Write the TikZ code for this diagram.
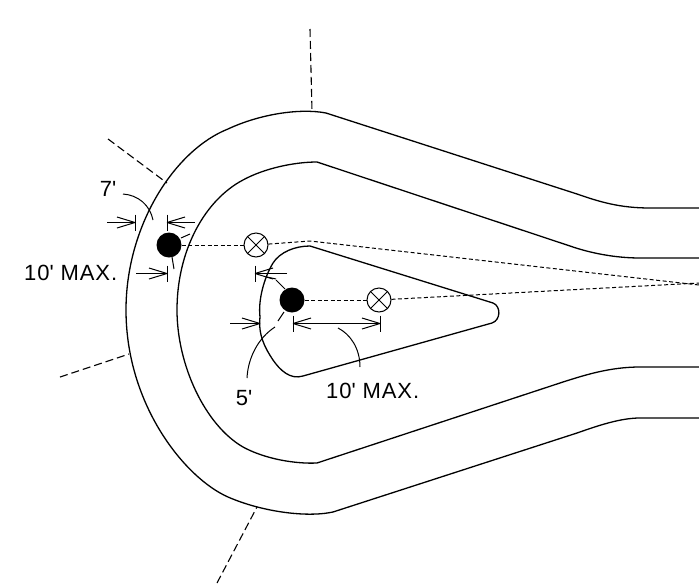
\documentclass[tikz,border=0pt]{standalone}
\usepackage{fontspec}
\setmainfont{Liberation Sans}[LetterSpace=4]
\tikzset{
	pole/.style = {circle, fill = black, inner sep = 0pt, minimum size = 25pt},
	lamp/.style = {circle, draw, line width = 1pt, fill = white, inner sep = 0pt, minimum size = 24pt},
	label/.style = {inner sep = 0pt, font = \fontsize{22}{22}\selectfont},
	curb/.style = {line width = 1.3pt},
	leader/.style = {line width = 1pt},
	wire/.style = {line width = 1pt, dash pattern = on 4pt off 2.5pt},
	bound/.style = {line width = 1.1pt, dash pattern = on 8pt off 4pt}
}
\newcommand{\cross}[1]{\draw[line width = 1pt] (#1.45) -- (#1.225);
					\draw[line width = 1pt] (#1.135) -- (#1.315);}
\newcommand{\tick}[1]{\draw[leader] (#1) ++(0,-8) -- ++(0,16);}
\newcommand{\barbright}[1]{\draw[leader] (#1) -- ++(-18,-5.5);
					\draw[leader] (#1) -- ++(-18,5.5);}
\newcommand{\barbleft}[1]{\draw[leader] (#1) -- ++(18,-5.5);
					\draw[leader] (#1) -- ++(18,5.5);}
\newcommand{\ft}{\textquotesingle}
\begin{document}
\begin{tikzpicture}[x=1pt, y=-1pt]
	\useasboundingbox (0,0) rectangle (699,587);

	% curbs
	\draw[curb] (699,208) -- (650,208) .. controls (620,208) and (600,202) .. (577,194) -- (326,113)
		.. controls (300,108) and (260,114) .. (228,129)
		.. controls (175,150) and (126,225) .. (126,310)
		.. controls (126,405) and (185,478) .. (228,497)
		.. controls (260,511) and (305,518) .. (333,512) -- (577,433)
		.. controls (597,426) and (620,418) .. (640,418) -- (699,418);
	\draw[curb] (699,258) -- (640,258) .. controls (615,258) and (590,253) .. (570,246) -- (317,162)
		.. controls (295,162) and (265,168) .. (243,180)
		.. controls (205,200) and (177,250) .. (177,310)
		.. controls (177,365) and (205,425) .. (243,447)
		.. controls (265,459) and (295,464) .. (317,463) -- (563,382)
		.. controls (585,375) and (610,367) .. (640,367) -- (699,367);
	\draw[curb] (310,246) -- (493,303) .. controls (501,306) and (501,320) .. (492,323) -- (303,376)
		.. controls (290,380) and (280,370) .. (273,360)
		.. controls (265,348) and (258,335) .. (260,317)
		.. controls (258,300) and (264,278) .. (273,263)
		.. controls (280,252) and (295,246) .. (310,246);

	% property lines
	\draw[bound] (310,29) -- (312,111);
	\draw[bound] (108,139) -- (167,183);
	\draw[bound] (60,377) -- (129,354);
	\draw[bound] (217,583) -- (257,507);

	\node[pole] (poleA) at (169,245) {};
	\node[lamp] (lampA) at (256,245) {};
	\node[pole] (poleB) at (292,300) {};
	\node[lamp] (lampB) at (379,300) {};
	\cross{lampA}
	\cross{lampB}

	\coordinate (bendA) at (310,241);
	\coordinate (endA) at (699,285);
	\coordinate (endB) at (699,283);
	\draw[wire] (poleA) -- (lampA);
	\draw[wire] (lampA) -- (bendA) -- (endA);
	\draw[wire] (poleB) -- (lampB);
	\draw[wire] (lampB) -- (endB);

	% dimensions
	\tick{135,222.5}
	\tick{167,222.5}
	\tick{167,273.5}
	\tick{255,273.5}
	\tick{293,323.5}
	\tick{380,323.5}
	\draw[leader] (107,222.5) -- (135,222.5);
	\barbright{135,222.5}
	\draw[leader] (195,222.5) -- (167,222.5);
	\barbleft{167,222.5}
	\draw[leader] (136,273.5) -- (167,273.5);
	\barbright{167,273.5}
	\draw[leader] (287,273.5) -- (255,273.5);
	\barbleft{255,273.5}
	\draw[leader] (230,323.5) -- (260,323.5);
	\barbright{260,323.5}
	\draw[leader] (293,323.5) -- (380,323.5);
	\barbleft{293,323.5}
	\barbright{380,323.5}

	% leaders
	\draw[leader] (123,194) .. controls (138,195) and (150,205) .. (153,220);
	\draw[leader] (190,234) -- (181,238);
	\draw[leader] (172,257) -- (174,269);
	\draw[leader] (267,277) -- (276,279);
	\draw[leader] (276,280) -- (285,289);
	\draw[leader] (284,312) -- (278,321);
	\draw[leader] (275,327) .. controls (258,338) and (248,358) .. (247,378);
	\draw[leader] (338,328) .. controls (350,334) and (360,348) .. (360,367);

	\node[label] (sevenft) at (108,189) {7\ft};
	\node[label, anchor = west] (maxA) at (24,273) {10\ft{} MAX.};
	\node[label] (fiveft) at (244,398) {5\ft};
	\node[label, anchor = west] (maxB) at (326,391) {10\ft{} MAX.};
\end{tikzpicture}
\end{document}
